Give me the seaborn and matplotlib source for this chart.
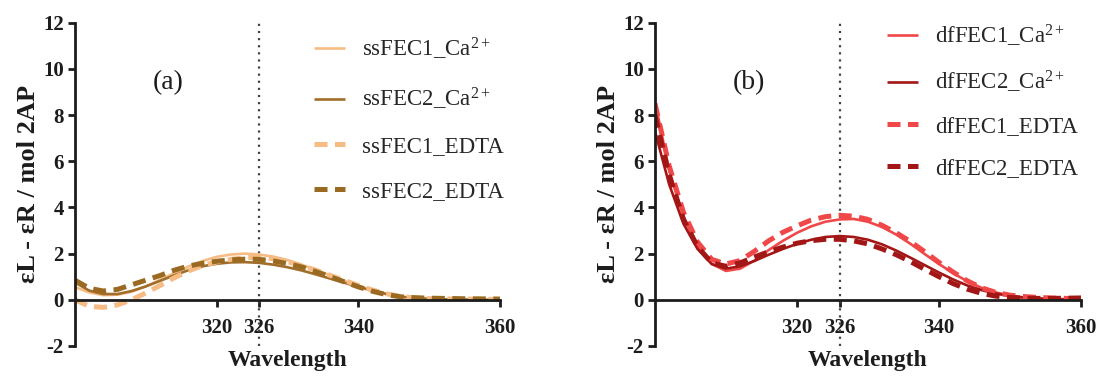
import matplotlib
matplotlib.use("Agg")
import matplotlib.pyplot as plt
import pandas as pd
import seaborn as sns

# Wavelength grid (nm)
wavelength = list(range(300, 361, 2))

# Panel (a): single-stranded constructs
ssfec1_ca = [0.55, 0.32, 0.20, 0.22, 0.35, 0.58, 0.86, 1.16, 1.44, 1.68, 1.86,
             1.96, 2.00, 1.96, 1.87, 1.72, 1.52, 1.30, 1.06, 0.82, 0.60, 0.40,
             0.24, 0.13, 0.07, 0.03, 0.02, 0.01, 0.01, 0.00, 0.00]
ssfec2_ca = [0.75, 0.40, 0.25, 0.25, 0.38, 0.58, 0.82, 1.06, 1.28, 1.45, 1.56,
             1.62, 1.63, 1.60, 1.52, 1.41, 1.27, 1.10, 0.92, 0.74, 0.56, 0.39,
             0.25, 0.14, 0.07, 0.04, 0.02, 0.01, 0.01, 0.00, 0.00]
ssfec1_edta = [0.00, -0.28, -0.33, -0.22, 0.00, 0.30, 0.62, 0.95, 1.25, 1.48, 1.64,
               1.75, 1.82, 1.84, 1.78, 1.65, 1.48, 1.28, 1.06, 0.84, 0.62, 0.42,
               0.26, 0.14, 0.08, 0.05, 0.04, 0.03, 0.03, 0.02, 0.02]
ssfec2_edta = [0.85, 0.50, 0.38, 0.45, 0.65, 0.85, 1.05, 1.28, 1.46, 1.58, 1.67,
               1.73, 1.76, 1.75, 1.68, 1.57, 1.42, 1.22, 1.00, 0.78, 0.56, 0.37,
               0.22, 0.13, 0.09, 0.07, 0.06, 0.05, 0.04, 0.04, 0.03]

# Panel (b): double-flipped constructs
dffec1_ca = [8.60, 5.60, 3.60, 2.30, 1.55, 1.25, 1.35, 1.70, 2.15, 2.55, 2.90,
             3.18, 3.38, 3.48, 3.50, 3.38, 3.15, 2.82, 2.42, 1.98, 1.55, 1.15,
             0.80, 0.52, 0.32, 0.18, 0.10, 0.06, 0.04, 0.02, 0.00]
dffec2_ca = [7.30, 5.00, 3.30, 2.20, 1.55, 1.35, 1.45, 1.68, 1.95, 2.20, 2.42,
             2.60, 2.72, 2.76, 2.72, 2.60, 2.40, 2.13, 1.82, 1.50, 1.18, 0.88,
             0.62, 0.42, 0.27, 0.16, 0.09, 0.05, 0.03, 0.02, 0.01]
dffec1_edta = [8.50, 5.80, 3.80, 2.50, 1.75, 1.55, 1.70, 2.10, 2.55, 2.92, 3.20,
               3.45, 3.60, 3.66, 3.62, 3.48, 3.22, 2.90, 2.52, 2.08, 1.62, 1.20,
               0.82, 0.52, 0.32, 0.20, 0.14, 0.10, 0.08, 0.06, 0.03]
dffec2_edta = [8.00, 5.40, 3.50, 2.30, 1.60, 1.45, 1.60, 1.85, 2.08, 2.28, 2.45,
               2.56, 2.62, 2.62, 2.55, 2.42, 2.20, 1.95, 1.65, 1.32, 1.00, 0.70,
               0.46, 0.28, 0.16, 0.10, 0.07, 0.06, 0.06, 0.07, 0.08]

panel_a_labels = ["ssFEC1_Ca$^{2+}$", "ssFEC2_Ca$^{2+}$", "ssFEC1_EDTA", "ssFEC2_EDTA"]
panel_b_labels = ["dfFEC1_Ca$^{2+}$", "dfFEC2_Ca$^{2+}$", "dfFEC1_EDTA", "dfFEC2_EDTA"]

x_ticks = [320, 326, 340, 360]
y_ticks = [-2, 0, 2, 4, 6, 8, 10, 12]
REF_WAVELENGTH = 326

sns.set_style("ticks")
plt.rcParams["font.family"] = ["Liberation Serif", "DejaVu Serif"]
plt.rcParams["mathtext.fontset"] = "custom"
plt.rcParams["mathtext.rm"] = "Liberation Serif"
plt.rcParams["mathtext.it"] = "Liberation Serif:italic"
plt.rcParams["mathtext.bf"] = "Liberation Serif:bold"
plt.rcParams["axes.unicode_minus"] = False

INK = "#1c1c1c"


def long_frame(series, labels):
    rows = []
    for values, label in zip(series, labels):
        for w, v in zip(wavelength, values):
            rows.append({"wavelength": w, "signal": v, "series": label})
    return pd.DataFrame(rows)


def draw_panel(ax, series, labels, colors, tag, legend_anchor, spacing):
    df = long_frame(series, labels)
    handles = []
    for label, color in zip(labels, colors):
        edta = "EDTA" in label
        before = len(ax.lines)
        sns.lineplot(
            data=df[df["series"] == label], x="wavelength", y="signal",
            color=color, ax=ax, legend=False,
            linewidth=3.6 if edta else 1.9,
            linestyle=(0, (2.6, 1.5)) if edta else "-",
            solid_capstyle="butt", dash_capstyle="butt",
        )
        handles.append(ax.lines[before])

    ax.axvline(REF_WAVELENGTH, ymin=0.0, ymax=1.0, color="#444444",
               linestyle=(0, (1, 2.2)), linewidth=1.6, clip_on=False, zorder=1)

    ax.set_xlim(300, 360)
    ax.set_ylim(-2, 12)
    ax.set_xticks(x_ticks)
    ax.set_yticks(y_ticks)
    sns.despine(ax=ax)
    ax.spines["bottom"].set_position(("data", 0))
    for side in ("left", "bottom"):
        ax.spines[side].set_linewidth(2.0)
        ax.spines[side].set_color(INK)
    ax.tick_params(axis="both", width=2.0, length=5, color=INK,
                   labelsize=15, labelcolor=INK)
    ax.tick_params(axis="x", pad=8)
    ax.tick_params(axis="y", pad=3)
    for t in ax.get_xticklabels() + ax.get_yticklabels():
        t.set_fontweight("bold")

    ax.set_xlabel("Wavelength", fontsize=17, fontweight="bold", color=INK)
    ax.xaxis.set_label_coords(0.5, -0.012)
    ax.xaxis.label.set_verticalalignment("top")
    ax.set_ylabel("εL - εR / mol 2AP", fontsize=19, fontweight="bold", color=INK)
    ax.yaxis.set_label_coords(-0.083, 0.5)

    ax.text(313.2, 9.4, tag, fontsize=20, color=INK, ha="center", va="center")

    ax.legend(handles, labels, loc="upper left", bbox_to_anchor=legend_anchor,
              bbox_transform=ax.figure.transFigure, frameon=False,
              fontsize=16.5, handlelength=1.35, handletextpad=0.75,
              labelspacing=spacing, borderpad=0, borderaxespad=0)


fig = plt.figure(figsize=(10.98, 3.76), dpi=100)
ax_a = fig.add_axes([0.0683, 0.0798, 0.3871, 0.860])
ax_b = fig.add_axes([0.5965, 0.0798, 0.388, 0.860])

draw_panel(ax_a, [ssfec1_ca, ssfec2_ca, ssfec1_edta, ssfec2_edta], panel_a_labels,
           ["#F6BC84", "#A06E2A", "#F6BC84", "#9A6A22"], "(a)", (0.286, 0.905), 1.05)
draw_panel(ax_b, [dffec1_ca, dffec2_ca, dffec1_edta, dffec2_edta], panel_b_labels,
           ["#F04848", "#A31616", "#F04848", "#A31616"], "(b)", (0.808, 0.94), 0.9)

fig.savefig("out.png", dpi=100)
